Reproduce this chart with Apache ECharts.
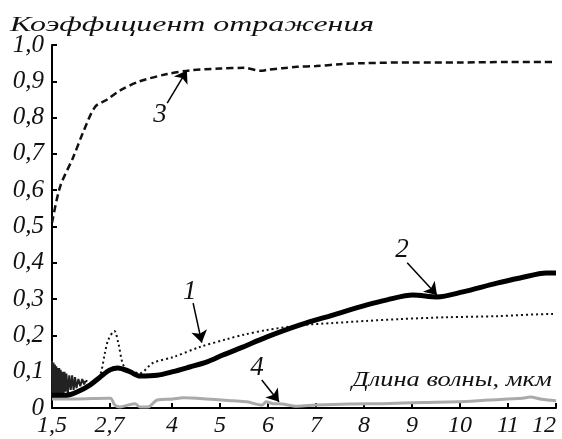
<!DOCTYPE html>
<html><head><meta charset="utf-8">
<script src="https://cdn.jsdelivr.net/npm/echarts@6/dist/echarts.min.js"></script>
<style>html,body{margin:0;padding:0;background:#fff}#c{width:562px;height:439px}</style>
</head><body><div id="c"></div>
<script>
// ---- data ----
const titleText = 'Коэффициент отражения';
const xAxisTitle = 'Длина волны, мкм';
const xTickValues = [2.7, 4, 5, 6, 7, 8, 9, 10, 11, 12];
const xLabelValues = [1.5, 2.7, 4, 5, 6, 7, 8, 9, 10, 11, 12];

// curve 3 (dashed)
const c3x = [1.5, 1.67, 1.94, 2.15, 2.4, 2.65, 2.92, 3.33, 3.9, 4.37, 5.0, 5.5, 5.85, 6.0, 6.3, 6.6, 7.0, 7.5, 8, 9, 10, 11, 12];
const c3y = [0.51, 0.61, 0.69, 0.76, 0.83, 0.85, 0.875, 0.9, 0.92, 0.93, 0.935, 0.937, 0.929, 0.932, 0.936, 0.94, 0.942, 0.947, 0.95, 0.952, 0.952, 0.953, 0.953];

// curve 2 (thick solid)
const c2x = [1.5, 1.8, 2.02, 2.29, 2.5, 2.71, 2.87, 3.12, 3.33, 3.69, 4.02, 4.37, 4.73, 5.06, 5.42, 5.98, 6.67, 7.35, 8.06, 8.48, 9.02, 9.52, 10.06, 10.77, 11.25, 11.8, 12];
const c2y = [0.035, 0.035, 0.044, 0.063, 0.085, 0.105, 0.11, 0.1, 0.088, 0.09, 0.1, 0.113, 0.127, 0.146, 0.165, 0.196, 0.229, 0.256, 0.284, 0.298, 0.311, 0.306, 0.32, 0.344, 0.358, 0.372, 0.372];

// curve 1 (dotted)
const c1x = [2.2, 2.35, 2.5, 2.6, 2.67, 2.8, 2.88, 2.98, 3.1, 3.33, 3.6, 4.02, 4.58, 5.15, 5.5, 5.98, 6.67, 7.35, 8.06, 8.75, 9.73, 10.77, 11.94, 12];
const c1y = [0.075, 0.07, 0.09, 0.15, 0.187, 0.212, 0.18, 0.12, 0.105, 0.096, 0.124, 0.14, 0.168, 0.19, 0.202, 0.215, 0.228, 0.234, 0.24, 0.245, 0.25, 0.253, 0.259, 0.258];
// curve 1, noisy start (dense dark band)
const c1nx = [1.5, 1.51, 1.53, 1.54, 1.56, 1.57, 1.59, 1.6, 1.62, 1.63, 1.65, 1.66, 1.68, 1.7, 1.72, 1.74, 1.76, 1.78, 1.8, 1.83, 1.86, 1.89, 1.92, 1.95, 1.98, 2.01, 2.05, 2.09, 2.13, 2.17, 2.2];
const c1ny = [0.13, 0.03, 0.125, 0.035, 0.12, 0.03, 0.115, 0.04, 0.11, 0.03, 0.11, 0.04, 0.105, 0.035, 0.1, 0.04, 0.1, 0.045, 0.095, 0.04, 0.09, 0.05, 0.09, 0.05, 0.085, 0.055, 0.08, 0.06, 0.08, 0.065, 0.075];

// curve 4 (grey)
const c4x = [1.5, 2.0, 2.65, 2.72, 2.81, 2.92, 3.08, 3.23, 3.33, 3.5, 3.69, 4.02, 4.23, 4.73, 5.27, 5.56, 5.88, 5.96, 6.1, 6.29, 6.6, 7.0, 7.7, 8.4, 9.23, 9.94, 10.6, 11.3, 11.46, 11.7, 12];
const c4y = [0.025, 0.025, 0.027, 0.027, 0.008, 0.003, 0.008, 0.012, 0.003, 0.003, 0.022, 0.025, 0.028, 0.025, 0.02, 0.017, 0.008, 0.017, 0.012, 0.011, 0.005, 0.008, 0.011, 0.012, 0.015, 0.017, 0.022, 0.027, 0.03, 0.024, 0.02];

// curve labels and arrows: [label, labelX, labelY, tailX, tailY, tipX, tipY]
const callouts = [
  ['1', 4.37, 0.32, 4.44, 0.289, 4.62, 0.18],
  ['2', 8.79, 0.435, 8.9, 0.40, 9.52, 0.311],
  ['3', 3.75, 0.807, 3.9, 0.84, 4.31, 0.93],
  ['4', 5.77, 0.11, 5.87, 0.077, 6.23, 0.017]
];

const FONT = 'Liberation Serif';
const zip = (xs, ys) => xs.map((x, i) => [x, ys[i]]);
const fmt = v => v === 0 ? '0' : String(+v.toFixed(1)).replace('.', ',').replace(/^1$/, '1,0');

const chart = echarts.init(document.getElementById('c'), null, {renderer: 'canvas'});
chart.setOption({
  animation: false,
  backgroundColor: '#fff',
  grid: {left: 52, right: 6, top: 45, bottom: 31, containLabel: false, outerBoundsMode: 'none'},
  graphic: [
    {type: 'text', x: 10, y: 14, scaleX: 1.45, style: {text: titleText, font: 'italic 22px "Liberation Serif"', fill: '#111'}},
    {type: 'text', x: 352, y: 369, scaleX: 1.2, style: {text: xAxisTitle, font: 'italic 22px "Liberation Serif"', fill: '#111'}}
  ],
  xAxis: {
    type: 'value', min: 1.5, max: 12,
    axisLine: {show: true, onZero: false, lineStyle: {color: '#000', width: 2}},
    axisTick: {show: true, inside: true, length: 5, lineStyle: {color: '#000', width: 2}, customValues: xTickValues},
    axisLabel: {customValues: xLabelValues, alignMaxLabel: 'right', formatter: v => String(v).replace('.', ','), fontFamily: FONT, fontStyle: 'italic', fontSize: 24, color: '#111', margin: 6},
    splitLine: {show: false}
  },
  yAxis: {
    type: 'value', min: 0, max: 1, interval: 0.1,
    axisLine: {show: true, lineStyle: {color: '#000', width: 2}},
    axisTick: {show: true, inside: true, length: 5, lineStyle: {color: '#000', width: 2}},
    axisLabel: {formatter: fmt, fontFamily: FONT, fontStyle: 'italic', fontSize: 25, color: '#111', margin: 8},
    splitLine: {show: false}
  },
  series: [
    {type: 'line', name: '4', data: zip(c4x, c4y), showSymbol: false, smooth: 0.3, lineStyle: {color: '#aaaaaa', width: 3}, z: 2},
    {type: 'line', name: '1n', data: zip(c1nx, c1ny), showSymbol: false, lineStyle: {color: '#222', width: 2}, z: 3},
    {type: 'line', name: '1', data: zip(c1x, c1y), showSymbol: false, smooth: 0.3, lineStyle: {color: '#111', width: 2, type: [2, 3]}, z: 3},
    {type: 'line', name: '2', data: zip(c2x, c2y), showSymbol: false, smooth: 0.3, lineStyle: {color: '#000', width: 5}, z: 4},
    {type: 'line', name: '3', data: zip(c3x, c3y), showSymbol: false, smooth: 0.3, lineStyle: {color: '#111', width: 2.5, type: [7, 4]}, z: 3,
      markLine: {
        silent: true, animation: false, symbol: ['none', 'arrow'], symbolSize: 12,
        label: {show: false},
        lineStyle: {color: '#000', width: 1.5, type: 'solid'},
        data: callouts.map(c => [{coord: [c[3], c[4]]}, {coord: [c[5], c[6]]}])
      },
      markPoint: {
        silent: true, animation: false, symbol: 'circle', symbolSize: 1,
        itemStyle: {color: 'rgba(0,0,0,0)'},
        label: {show: true, position: 'inside', color: '#111', fontFamily: FONT, fontStyle: 'italic', fontSize: 27, formatter: p => p.name},
        data: callouts.map(c => ({name: c[0], coord: [c[1], c[2]]}))
      }
    }
  ]
});
</script>
</body></html>
